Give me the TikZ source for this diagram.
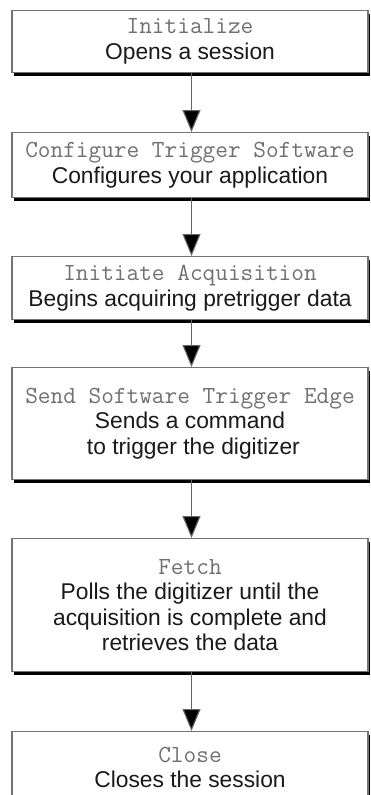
\documentclass[tikz,border=0pt]{standalone}
\usepackage{fontspec}
\setmainfont{Liberation Sans}
\usetikzlibrary{arrows.meta}
\definecolor{titlegray}{HTML}{707070}
\definecolor{desctext}{HTML}{1A1A1A}
\tikzset{
  stepbox/.style={draw=black!55, line width=1.1pt, fill=white, anchor=north,
    minimum width=356pt, align=center, inner sep=2pt, text=desctext,
    font=\fontsize{22.8}{25.5}\selectfont,
    preaction={fill=black, transform canvas={xshift=1.6pt,yshift=-3.4pt}}},
  flowarrow/.style={draw=black!60, line width=1.1pt,
    -{Triangle[width=18pt,length=22pt,fill=black]}, shorten >=0pt}
}
\newcommand{\ttlline}[1]{{\ttfamily\fontsize{24.6}{25.5}\selectfont\color{titlegray}#1}}
\begin{document}
\begin{tikzpicture}[x=1pt,y=1pt]
\useasboundingbox (0,0) rectangle (370,-795);
\clip (0,0) rectangle (370,-795);
\node[stepbox, minimum height=62pt] (b1) at (190,-10)
  {\ttlline{Initialize}\\Opens a session};
\node[stepbox, minimum height=65pt] (b2) at (190,-132)
  {\ttlline{Configure Trigger Software}\\Configures your application};
\node[stepbox, minimum height=63pt] (b3) at (190,-256)
  {\ttlline{Initiate Acquisition}\\Begins acquiring pretrigger data};
\node[stepbox, minimum height=112pt] (b4) at (190,-367)
  {\ttlline{Send Software Trigger Edge}\\Sends a command\\\hspace*{0.3em}to trigger the digitizer};
\node[stepbox, minimum height=133pt] (b5) at (190,-538)
  {\ttlline{Fetch}\\Polls the digitizer until the\\acquisition is complete and\\retrieves the data};
\node[stepbox, minimum height=72pt] (b6) at (190,-731)
  {\ttlline{Close}\\Closes the session};
\draw[flowarrow] ([xshift=1.5pt]b1.south) -- ([xshift=1.5pt]b2.north);
\draw[flowarrow] ([xshift=1.5pt]b2.south) -- ([xshift=1.5pt]b3.north);
\draw[flowarrow] ([xshift=1.5pt]b3.south) -- ([xshift=1.5pt]b4.north);
\draw[flowarrow] ([xshift=1.5pt]b4.south) -- ([xshift=1.5pt]b5.north);
\draw[flowarrow] ([xshift=1.5pt]b5.south) -- ([xshift=1.5pt]b6.north);
\end{tikzpicture}
\end{document}
